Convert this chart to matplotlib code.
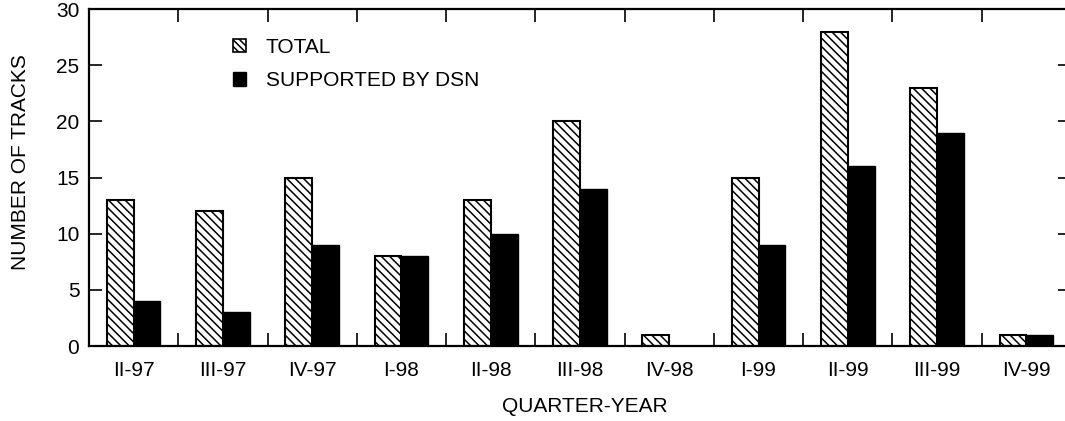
import numpy as np
import matplotlib
matplotlib.use("Agg")
import matplotlib.pyplot as plt
from matplotlib.patches import Patch

quarters = ["II-97", "III-97", "IV-97", "I-98", "II-98", "III-98",
            "IV-98", "I-99", "II-99", "III-99", "IV-99"]
total_tracks = [13, 12, 15, 8, 13, 20, 1, 15, 28, 23, 1]
dsn_tracks = [4, 3, 9, 8, 10, 14, 0, 9, 16, 19, 1]

plt.rcParams["font.family"] = ["Liberation Sans", "DejaVu Sans"]
plt.rcParams["font.size"] = 15
plt.rcParams["hatch.linewidth"] = 1.1

fig = plt.figure(figsize=(10.65, 4.21), dpi=100)
ax = fig.add_axes([0.0836, 0.178, 0.922, 0.8005])

x = np.arange(len(quarters))
w = 0.3
ax.bar(x - w / 2, total_tracks, w, color="white", edgecolor="black",
       linewidth=1.5, hatch="\\\\\\\\")
ax.bar(x + w / 2, dsn_tracks, w, color="black", edgecolor="black", linewidth=1.0)

ax.set_xlim(-0.5, 10.5)
ax.set_ylim(0, 30)

# group separators as inward ticks, quarter names on minor ticks
ax.set_xticks(np.arange(0.5, 10, 1))
ax.set_xticklabels([])
ax.set_xticks(x, minor=True)
ax.set_xticklabels(quarters, minor=True)
ax.tick_params(axis="x", which="major", direction="in", length=9.5, width=1.2,
               top=True, bottom=True)
ax.tick_params(axis="x", which="minor", length=0, pad=11)

ax.set_yticks(range(0, 31, 5))
ax.tick_params(axis="y", direction="in", length=9.5, width=1.2,
               left=True, right=True, pad=7)

for s in ax.spines.values():
    s.set_linewidth(1.6)

ax.set_ylabel("NUMBER OF TRACKS")
ax.yaxis.set_label_coords(-0.06, 0.546)
ax.set_xlabel("QUARTER-YEAR")
ax.xaxis.set_label_coords(0.505, -0.152)

handles = [Patch(facecolor="white", edgecolor="black", hatch="\\\\\\\\\\", linewidth=1.2),
           Patch(facecolor="black", edgecolor="black")]
ax.legend(handles, ["TOTAL", "SUPPORTED BY DSN"], loc="upper left",
          bbox_to_anchor=(233 / 1065, 1 - 38 / 421), bbox_transform=fig.transFigure,
          frameon=False, borderpad=0, handlelength=0.62, handleheight=0.62,
          handletextpad=0.95, labelspacing=0.68, borderaxespad=0)

fig.savefig("out.png", dpi=100)
